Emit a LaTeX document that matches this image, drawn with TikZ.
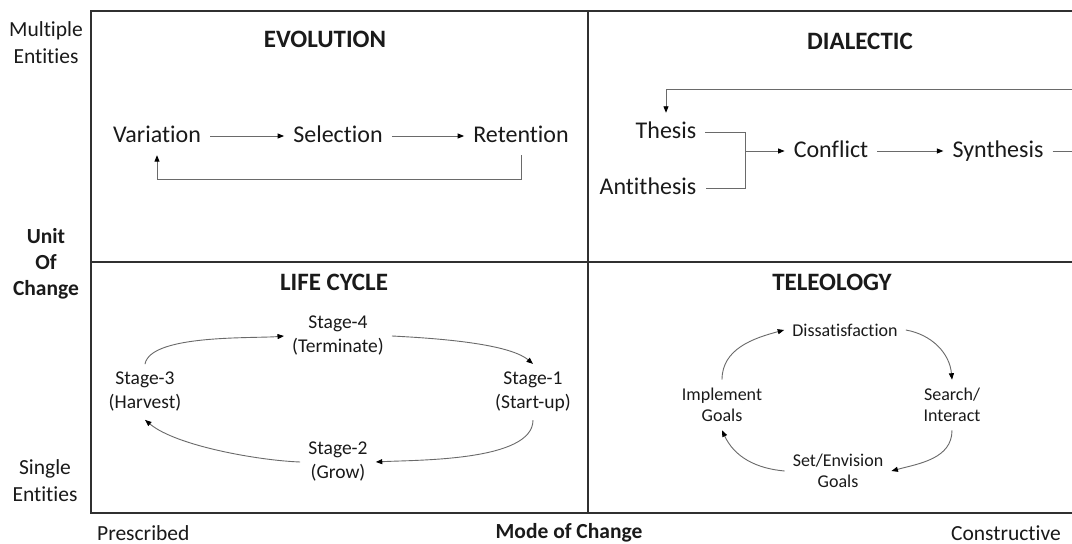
\documentclass[tikz,border=0pt]{standalone}
\usepackage{fontspec}
\setmainfont{Carlito}[Ligatures={NoCommon}]
\usetikzlibrary{arrows.meta}
\definecolor{txt}{HTML}{1A1A1A}
\definecolor{frm}{HTML}{303030}
\definecolor{con}{HTML}{6A6A6A}
\tikzset{
  frame/.style={draw=frm, line width=1.8pt},
  conn/.style={draw=con, line width=0.9pt},
  arr/.style={conn, -{Triangle[length=6.5pt,width=5pt,color=black]}},
  big/.style={text=txt, font=\fontsize{24}{29}\selectfont, inner sep=9pt, text height=17pt, text depth=3pt},
  stagebox/.style={text=txt, font=\fontsize{19.5}{24}\selectfont, align=center, inner sep=8pt},
  telebox/.style={text=txt, font=\fontsize{18}{21.5}\selectfont, align=center, inner sep=8pt},
  titlebox/.style={text=txt, font=\fontsize{25}{30}\selectfont\bfseries, inner sep=0pt},
  axisbox/.style={text=txt, font=\fontsize{21.5}{27}\selectfont, align=center, inner sep=0pt},
}
\begin{document}
\begin{tikzpicture}[x=1pt,y=1pt]
\useasboundingbox (0,0) rectangle (1072,544);
\clip (0,0) rectangle (1072,544);
\fill[white] (0,0) rectangle (1072,544);
% frame
\draw[frame] (1100,533) -- (91,533) -- (91,31) -- (1100,31);
\draw[frame] (588,533) -- (588,31);
\draw[frame] (91,282) -- (1100,282);
% axis labels
\node[axisbox] (multi) at (46,501) {Multiple\\Entities};
\node[axisbox, font=\fontsize{21.5}{26}\selectfont\bfseries] (unit) at (46,280) {Unit\\Of\\Change};
\node[axisbox] (single) at (45,63) {Single\\Entities};
\node[axisbox, anchor=west] (presc) at (97,11) {Prescribed};
\node[axisbox, font=\fontsize{21.5}{27}\selectfont\bfseries] (mode) at (569,11) {Mode of Change};
\node[axisbox, anchor=east] (constr) at (1061,11) {Constructive};
% titles
\node[titlebox] (tevo) at (325,505) {EVOLUTION};
\node[titlebox] (tdia) at (860,503) {DIALECTIC};
\node[titlebox] (tlife) at (334,261.5) {LIFE CYCLE};
\node[titlebox] (ttel) at (832,261.5) {TELEOLOGY};
% evolution
\node[big] (var) at (157,408) {Variation};
\node[big] (sel) at (338,408) {Selection};
\node[big] (ret) at (521,408) {Retention};
\draw[arr] (var) -- (sel);
\draw[arr] (sel) -- (ret);
\draw[arr] (ret.south) -- (ret.south |- 0,365) -- (var.south |- 0,365) -- (var.south);
% dialectic
\node[big] (th) at (666,412) {Thesis};
\node[big] (an) at (648,356) {Antithesis};
\node[big] (cf) at (831,393) {Conflict};
\node[big] (sy) at (998,393) {Synthesis};
\coordinate (j) at (745,393);
\coordinate (far) at (1090,455);
\draw[conn] (th.east) -- (th.east -| j) -- (an.east -| j) -- (an.east);
\draw[arr] (j) -- (cf);
\draw[arr] (cf) -- (sy);
\draw[arr] (sy.east) -- (sy.east -| far) -- (far) -- (th.north |- far) -- (th.north);
% life cycle
\node[stagebox] (s4) at (338,208) {Stage-4\\(Terminate)};
\node[stagebox] (s3) at (145,152) {Stage-3\\(Harvest)};
\node[stagebox] (s1) at (533,152) {Stage-1\\(Start-up)};
\node[stagebox] (s2) at (338,82) {Stage-2\\(Grow)};
\draw[arr] (s3.north) to[out=80,in=185,looseness=0.55] (s4.west);
\draw[arr] (s4.east) to[out=-3,in=140,looseness=0.6] (s1.north);
\draw[arr] (s1.south) to[out=-90,in=3,looseness=0.65] (s2.east);
\draw[arr] (s2.west) to[out=178,in=-40,looseness=0.65] (s3.south);
% teleology
\node[telebox] (dis) at (845,214) {Dissatisfaction};
\node[telebox] (impl) at (722,139) {Implement\\Goals};
\node[telebox] (srch) at (952,139) {Search/\\Interact};
\node[telebox] (setg) at (838,73) {Set/Envision\\Goals};
\draw[arr] (impl.north) to[out=90,in=195] (dis.west);
\draw[arr] (dis.east) to[out=-10,in=95] (srch.north);
\draw[arr] (srch.south) to[out=-90,in=15] (setg.east);
\draw[arr] (setg.west) to[out=175,in=-65] (impl.south);
\end{tikzpicture}
\end{document}
